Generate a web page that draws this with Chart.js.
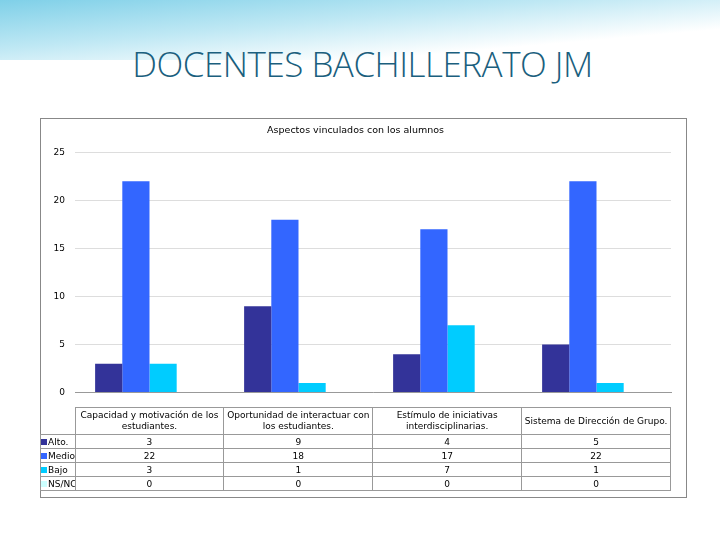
<!DOCTYPE html>
<html><head><meta charset="utf-8">
<script src="https://cdn.jsdelivr.net/npm/chart.js@4/dist/chart.umd.min.js"></script>
<style>
body{margin:0;width:720px;height:540px;background:#fff;position:relative;overflow:hidden;font-family:"DejaVu Sans",sans-serif}
#sw{position:absolute;left:0;top:0;width:720px;height:60px;background:linear-gradient(175deg,#7fd0e8 0%,#bfe8f4 40%,rgba(255,255,255,0) 75%)}
#title{position:absolute;left:0;width:725px;top:40px;text-align:center;font-family:"Open Sans",sans-serif;font-weight:300;font-size:35px;color:#1b5f7e;letter-spacing:-0.5px}
#box{position:absolute;left:40px;top:118px;width:645px;height:378px;border:1px solid #888}
#cv{position:absolute;left:40px;top:118px}
table{position:absolute;left:40px;top:407px;border-collapse:collapse;font-size:9px;color:#000;table-layout:fixed;width:631px}
td{border:1px solid #999;text-align:center;padding:0;height:13px;overflow:hidden}
td.h{height:26px;line-height:11px}
td.l{text-align:left;white-space:nowrap}
.sw{display:inline-block;width:6px;height:6px;margin-right:1px}
</style></head><body>
<div id="sw"></div>
<div id="title">DOCENTES BACHILLERATO JM</div>
<div id="box"></div>
<canvas id="cv" width="646" height="290" style="width:646px;height:290px"></canvas>
<table id="tb"></table>
<script>
const categories=["Capacidad y motivación de los estudiantes.","Oportunidad de interactuar con los estudiantes.","Estímulo de iniciativas interdisciplinarias.","Sistema de Dirección de Grupo."];
const seriesNames=["Alto.","Medio.","Bajo","NS/NC"];
const alto=[3,9,4,5];
const medio=[22,18,17,22];
const bajo=[3,1,7,1];
const nsnc=[0,0,0,0];
const colors=["#333399","#3366ff","#00ccff","#ccffff"];
const yTicks=[0,5,10,15,20,25];
const all=[alto,medio,bajo,nsnc];
new Chart(document.getElementById('cv'),{type:'bar',
data:{labels:categories,datasets:all.map((d,i)=>({label:seriesNames[i],data:d,backgroundColor:colors[i],categoryPercentage:0.73,barPercentage:1}))},
options:{responsive:false,animation:false,layout:{padding:{left:0,right:15,top:2,bottom:1}},
plugins:{legend:{display:false},title:{display:true,text:'Aspectos vinculados con los alumnos',font:{family:'DejaVu Sans',size:9.5,weight:'normal'},color:'#000',padding:{top:5,bottom:16}}},
scales:{x:{ticks:{display:false},afterFit:s=>{s.height=0},grid:{display:false},border:{color:'#999'}},
y:{min:0,max:25,afterFit:s=>{s.width=35},afterBuildTicks:s=>{s.ticks=yTicks.map(v=>({value:v}))},ticks:{font:{family:'DejaVu Sans',size:9},color:'#000',padding:10},grid:{color:'#ddd',drawTicks:false},border:{display:false}}}}});
let h='<tr><td class="h" style="border:none;width:34px"></td>'+categories.map(c=>'<td class="h">'+c+'</td>').join('')+'</tr>';
all.forEach((d,i)=>{h+='<tr><td class="l"><span class="sw" style="background:'+colors[i]+'"></span>'+seriesNames[i]+'</td>'+d.map(v=>'<td>'+v+'</td>').join('')+'</tr>'});
document.getElementById('tb').innerHTML=h;
</script></body></html>
